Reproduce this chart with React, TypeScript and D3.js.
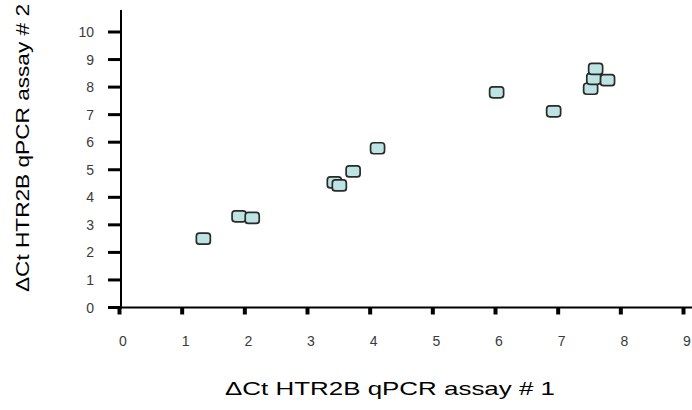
import React from "react";
import { scaleLinear, range } from "d3";

// ΔCt values, one entry per sample
const assay1 = [1.33, 1.9, 2.11, 3.42, 3.5, 3.72, 4.11, 6.01, 6.92, 7.51, 7.56, 7.59, 7.78];
const assay2 = [2.5, 3.31, 3.25, 4.54, 4.43, 4.94, 5.78, 7.81, 7.12, 7.94, 8.3, 8.66, 8.25];

const xTicks = range(0, 10);
const yTicks = range(0, 11);

const xTitle = "\u0394Ct HTR2B qPCR assay # 1";
const yTitle = "\u0394Ct HTR2B qPCR assay # 2";

export default function App() {
    const width = 692;
    const height = 410;

    const x = scaleLinear().domain([0, 9]).range([120, 684]);
    const y = scaleLinear().domain([0, 10]).range([307.5, 32]);

    const axisY = x(0) + 1;
    const axisX = y(0);
    const font = "Arial, 'Liberation Sans', sans-serif";

    return (
        <svg
            width={width}
            height={height}
            style={{ position: "absolute", left: 0, top: 0, background: "#fff" }}
        >
            {/* y axis */}
            <line x1={axisY} x2={axisY} y1={10} y2={axisX + 1} stroke="#000" strokeWidth={2} />
            {yTicks.map(t => (
                <g key={"y" + t}>
                    <line x1={axisY - 13} x2={axisY} y1={y(t)} y2={y(t)} stroke="#000" strokeWidth={3} />
                    <text
                        x={94}
                        y={y(t) + 5}
                        textAnchor="end"
                        fontSize={14}
                        fontFamily={font}
                        fill="#3a3a3a"
                    >
                        {t}
                    </text>
                </g>
            ))}

            {/* x axis */}
            <line x1={108} x2={692} y1={axisX} y2={axisX} stroke="#000" strokeWidth={2} />
            {xTicks.map(t => (
                <g key={"x" + t}>
                    <line x1={x(t) - 0.5} x2={x(t) - 0.5} y1={axisX} y2={axisX + 7} stroke="#000" strokeWidth={4} />
                    <text
                        x={x(t) + 3}
                        y={346}
                        textAnchor="middle"
                        fontSize={14}
                        fontFamily={font}
                        fill="#3a3a3a"
                    >
                        {t}
                    </text>
                </g>
            ))}

            {/* points */}
            {assay1.map((v, i) => (
                <rect
                    key={i}
                    x={x(v) - 7}
                    y={y(assay2[i]) - 5.5}
                    width={14}
                    height={11}
                    rx={3}
                    fill="#bde3e3"
                    stroke="#2a2a2a"
                    strokeWidth={1.7}
                />
            ))}

            {/* titles */}
            <text
                x={390}
                y={395}
                textAnchor="middle"
                fontSize={19}
                fontFamily={font}
                fill="#000"
                textLength={330}
                lengthAdjust="spacingAndGlyphs"
            >
                {xTitle}
            </text>
            <text
                transform={`translate(29, 148) rotate(-90)`}
                textAnchor="middle"
                fontSize={19}
                fontFamily={font}
                fill="#000"
                textLength={288}
                lengthAdjust="spacingAndGlyphs"
            >
                {yTitle}
            </text>
        </svg>
    );
}
